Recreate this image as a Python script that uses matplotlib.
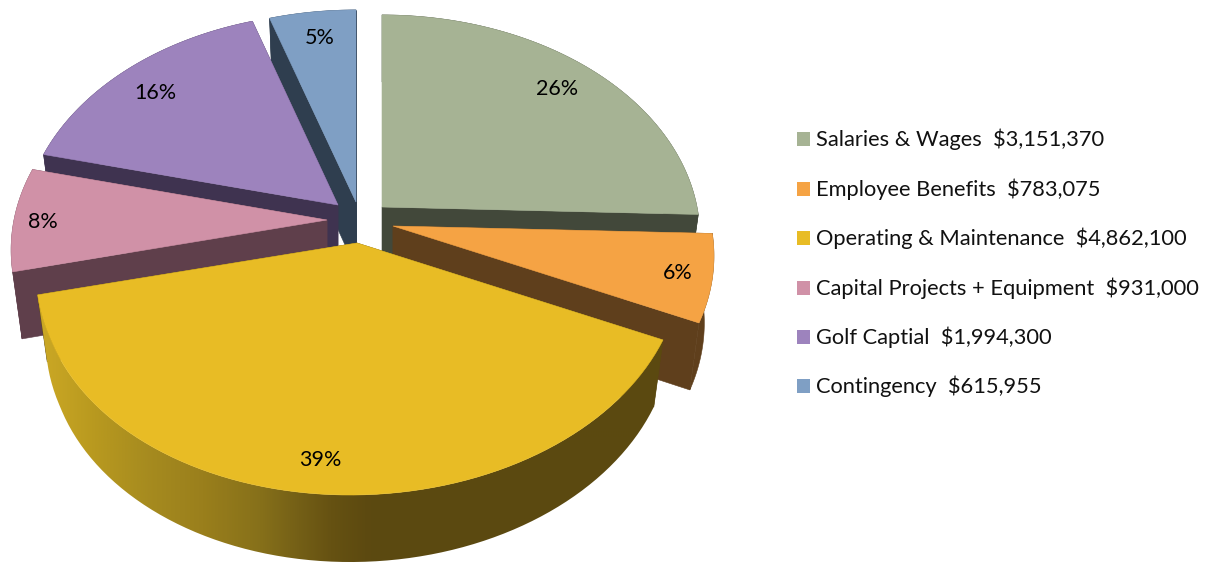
import numpy as np
import matplotlib
matplotlib.use("Agg")
import matplotlib.pyplot as plt
from matplotlib.colors import LinearSegmentedColormap
from matplotlib.patches import Polygon, Rectangle, PathPatch
from matplotlib.path import Path

plt.rcParams['font.family'] = ['Lato', 'DejaVu Sans']

categories = ["Salaries & Wages", "Employee Benefits", "Operating & Maintenance",
              "Capital Projects + Equipment", "Golf Captial", "Contingency"]
amounts = [3151370, 783075, 4862100, 931000, 1994300, 615955]

top_colors = ["#a6b394", "#f5a344", "#e8bc25", "#d091a7", "#9d83bd", "#7f9fc4"]
side_colors = ["#42483a", "#5f3f1c", "#5c4a10", "#5f3f4b", "#3f3350", "#2f3e4f"]
# tip of each exploded slice on the canvas, and its horizontal radius
tips = [(382, 207), (393, 226), (357, 243), (327, 220), (338, 205), (356, 202)]
radii_x = [315, 318, 318, 313, 313, 316]
pct_pos = [(557, 89), (678, 273), (320, 460), (43, 222), (155, 93), (320, 38)]
legend_y = [139, 189, 238, 288, 337, 386]
# back-to-front painting order
draw_order = [5, 4, 0, 3, 1, 2]

RY = 218
PERSP = 0.135
DEPTH = 67
SHRINK = 0.97
NEAR_SKEW = 12


def project(angles, tip, rx, lower=False):
    a = np.radians(angles)
    u, v = np.sin(a), np.cos(a)
    k = 1 / (1 + PERSP * v)
    # the nearest part of the rim leans slightly to the left
    dx = rx * u * k + NEAR_SKEW * np.minimum(v + 0.42, 0)
    dy = -RY * v * k
    if lower:
        return np.column_stack([tip[0] + dx * SHRINK, tip[1] + dy + DEPTH])
    return np.column_stack([tip[0] + dx, tip[1] + dy])


total = sum(amounts)
edges = np.concatenate([[0], np.cumsum(amounts) / total * 360])

fig = plt.figure(figsize=(12.12, 5.63), dpi=100)
ax = fig.add_axes([0, 0, 1, 1])
ax.set_xlim(0, 1212)
ax.set_ylim(563, 0)
ax.axis("off")

side_cmap = LinearSegmentedColormap.from_list(
    "rim", [(0, "#cfab26"), (0.1, "#b8991f"), (0.19, "#a58a1f"), (0.27, "#9a7f1c"),
            (0.36, "#86701a"), (0.42, "#745f16"), (0.47, "#665212"), (0.53, "#5c4910"),
            (1, "#5b4a10")])

for n, i in enumerate(draw_order):
    tip = tips[i]
    arc = np.linspace(edges[i], edges[i + 1], 80)
    top_arc = project(arc, tip, radii_x[i])
    low_arc = project(arc, tip, radii_x[i], lower=True)
    low_tip = (tip[0], tip[1] + DEPTH)

    # radial faces and rim first, the top face covers whatever is hidden
    rim = np.vstack([top_arc, low_arc[::-1]])
    for face in (0, -1):
        quad = [tip, top_arc[face], low_arc[face], low_tip]
        ax.add_patch(Polygon(quad, closed=True, fc=side_colors[i], ec=side_colors[i],
                             lw=0.4, zorder=n * 3 + 1))
    if i == 2:
        # the big slice has a lit rim, shaded left to right
        shade = np.linspace(0, 1, 256).reshape(1, -1)
        im = ax.imshow(shade, cmap=side_cmap, extent=(30, 670, 563, 290),
                       aspect="auto", zorder=n * 3 + 2)
        clip = PathPatch(Path(np.vstack([rim, rim[:1]])), transform=ax.transData,
                         fc="none", ec="none")
        ax.add_patch(clip)
        im.set_clip_path(clip)
    else:
        ax.add_patch(Polygon(rim, closed=True, fc=side_colors[i], ec=side_colors[i],
                             lw=0.4, zorder=n * 3 + 2))

    face_pts = np.vstack([[tip], top_arc])
    ax.add_patch(Polygon(face_pts, closed=True, fc=top_colors[i], ec=top_colors[i],
                         lw=0.4, zorder=n * 3 + 3))

ax.set_xlim(0, 1212)
ax.set_ylim(563, 0)

for i, (x, y) in enumerate(pct_pos):
    pct = round(amounts[i] / total * 100)
    ax.text(x, y, f"{pct}%", fontsize=15.5, color="black", ha="center", va="center", zorder=50)

for i, y in enumerate(legend_y):
    ax.add_patch(Rectangle((797, y - 7), 13, 14, fc=top_colors[i], ec="none", zorder=50))
    ax.text(816, y, f"{categories[i]}  ${amounts[i]:,}", fontsize=15.75, color="#111111",
            ha="left", va="center", zorder=50)

fig.savefig("out.png", dpi=100, facecolor="white")
